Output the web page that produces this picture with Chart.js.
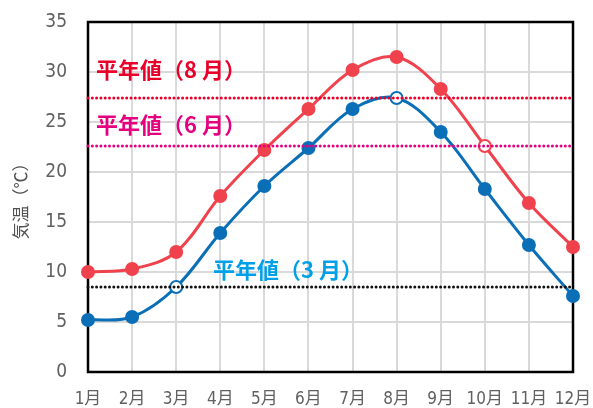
<!DOCTYPE html>
<html><head><meta charset="utf-8">
<script src="https://cdn.jsdelivr.net/npm/chart.js@4"></script>
<style>html,body{margin:0;padding:0;background:#fff}#wrap{width:593px;height:408px}</style>
</head><body><div id="wrap"><canvas id="c" width="593" height="408"></canvas></div>
<script>
const months = ['1月','2月','3月','4月','5月','6月','7月','8月','9月','10月','11月','12月'];
const redSeries = [10.0, 10.3, 12.0, 17.6, 22.2, 26.3, 30.2, 31.5, 28.3, 22.6, 16.9, 12.5];
const blueSeries = [5.2, 5.5, 8.5, 13.9, 18.6, 22.4, 26.3, 27.4, 24.0, 18.3, 12.7, 7.6];
const normalAug = 27.4;
const normalJun = 22.6;
const normalMar = 8.5;
const yTicks = [0, 5, 10, 15, 20, 25, 30, 35];
const refLabels = [
  {text:'平年値（8 月）', value: normalAug, color:'#e8002a'},
  {text:'平年値（6 月）', value: normalJun, color:'#e4007f'},
  {text:'平年値（3 月）', value: normalMar, color:'#00a0e9'}
];

const redFill = redSeries.map((v,i)=> i===9 ? '#ffffff' : '#f0424d');
const blueFill = blueSeries.map((v,i)=> (i===2||i===7) ? '#ffffff' : '#0a6fb7');

function refLine(v, color){
  return {type:'line', data:[{x:months[0], y:v},{x:months[months.length-1], y:v}],
    borderColor:color, borderWidth:3, borderDash:[0,4.3], borderCapStyle:'round',
    pointRadius:0, tension:0, clip:false};
}

const boxPlugin = {
  id:'box',
  beforeDatasetsDraw(chart){
    const {ctx, chartArea:a} = chart;
    ctx.save();
    ctx.strokeStyle = '#000'; ctx.lineWidth = 2.5;
    ctx.strokeRect(a.left, a.top, a.right-a.left, a.bottom-a.top);
    ctx.restore();
  }
};
const labelPlugin = {
  id:'reflabels',
  afterDatasetsDraw(chart){
    const {ctx} = chart; const y = chart.scales.y;
    ctx.save();
    ctx.font = 'bold 22px "Noto Sans CJK JP"';
    ctx.textBaseline = 'middle';
    const pos = [{x:96, dy:-28},{x:96, dy:-21},{x:213, dy:-17}];
    refLabels.forEach((l,i)=>{
      ctx.fillStyle = l.color;
      ctx.fillText(l.text, pos[i].x, y.getPixelForValue(l.value)+pos[i].dy);
    });
    ctx.restore();
  }
};

new Chart(document.getElementById('c'), {
  type:'line',
  data:{labels:months, datasets:[
    refLine(normalAug, '#e8002a'),
    refLine(normalJun, '#e4007f'),
    refLine(normalMar, '#111111'),
    {data:blueSeries, borderColor:'#0a6fb7', borderWidth:3, pointRadius:6,
     pointBackgroundColor:blueFill, pointBorderColor:'#0a6fb7', pointBorderWidth:2,
     tension:0.35, clip:false},
    {data:redSeries, borderColor:'#f0424d', borderWidth:3, pointRadius:6,
     pointBackgroundColor:redFill, pointBorderColor:'#f0424d', pointBorderWidth:2,
     tension:0.35, clip:false}
  ]},
  options:{
    responsive:false, animation:false,
    layout:{padding:{top:22, right:20, left:0, bottom:0}},
    plugins:{legend:{display:false}, tooltip:{enabled:false}},
    scales:{
      x:{offset:false,
        grid:{color:'#d9d9d9', lineWidth:2, drawTicks:false},
        border:{display:false},
        ticks:{color:'#606060', padding:17, maxRotation:0, autoSkip:false,
          font:{family:'"Liberation Sans Narrow", "DejaVu Sans Condensed", "Noto Sans CJK JP"', size:17}},
        afterFit(s){ s.height = 36; s.paddingLeft = 0; s.paddingRight = 0; }
      },
      y:{min:0, max:35,
        afterBuildTicks(s){ s.ticks = yTicks.map(v=>({value:v})); },
        grid:{color:'#d9d9d9', lineWidth:2, drawTicks:false},
        border:{display:false},
        ticks:{color:'#606060', padding:21,
          font:{family:'"Liberation Sans Narrow", "DejaVu Sans Condensed"', size:19}},
        title:{display:true, text:'気温（℃）', color:'#505050',
          font:{family:'"Noto Sans CJK JP"', size:17}, padding:{top:10, bottom:0}},
        afterFit(s){ s.width = 88; s.paddingTop = 0; s.paddingBottom = 0; }
      }
    }
  },
  plugins:[boxPlugin, labelPlugin]
});
</script></body></html>
